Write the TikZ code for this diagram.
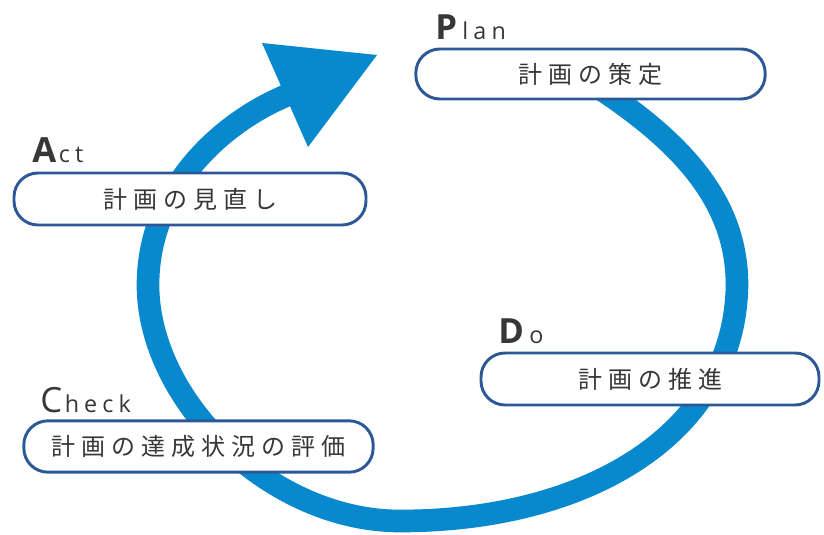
\documentclass[tikz,border=0pt]{standalone}
\usepackage{fontspec}
\newfontfamily\jpfont[LetterSpace=25]{Noto Sans CJK JP}
\newfontfamily\latfont[LetterSpace=22]{Open Sans}
\newfontfamily\capfont{Open Sans}
\definecolor{arcblue}{RGB}{8,137,206}
\definecolor{boxblue}{RGB}{44,88,152}
\definecolor{textgray}{RGB}{55,55,55}
\begin{document}
\begin{tikzpicture}[x=0.75pt,y=-0.75pt]
\useasboundingbox (0,0) rectangle (824,535);
\tikzset{
  stagebox/.style={draw=boxblue, line width=2.2pt, fill=white, rounded corners=18pt,
    inner sep=0pt, text=textgray, font=\jpfont\fontsize{18}{18}\selectfont},
  caplabel/.style={anchor=base west, inner sep=0pt, text=textgray},
  cyclearc/.style={draw=arcblue, line width=17pt},
}
% cycle arc
\coordinate (arcstart) at (590,82);
\coordinate (arcright) at (737,285);
\coordinate (arcbottom) at (400,521);
\coordinate (arcleft) at (148,285);
\coordinate (arcend) at (283,97);
\coordinate (arctip) at (294,92);
\draw[cyclearc] (arcstart) .. controls (680,140) and (737,200) .. (arcright)
  .. controls (735,432) and (590,521) .. (arcbottom)
  .. controls (270,521) and (148,400) .. (arcleft)
  .. controls (148,190) and (219,125) .. (arcend) -- (arctip);
% arrowhead
\fill[arcblue] (262,43) -- (377,55) -- (308,147) -- cycle;
% boxes
\node[stagebox, minimum width=262pt, minimum height=37.5pt] (plan) at (590.5,74) {計画の策定};
\node[stagebox, minimum width=264pt, minimum height=39pt] (act) at (190,199) {計画の見直し};
\node[stagebox, minimum width=253.5pt, minimum height=39pt] (do) at (650,379) {計画の推進};
\node[stagebox, minimum width=262pt, minimum height=38.5pt] (check) at (198.5,446.5) {計画の達成状況の評価};
% labels
\node[caplabel] (planlabel) at (435,40) {{\capfont\bfseries\fontsize{26}{26}\selectfont P}\hspace{4pt}{\latfont\fontsize{17.5}{17.5}\selectfont lan}};
\node[caplabel] (actlabel) at (32,162) {{\capfont\bfseries\fontsize{26}{26}\selectfont A}\hspace{2pt}{\latfont\fontsize{17.5}{17.5}\selectfont ct}};
\node[caplabel] (dolabel) at (498,343) {{\capfont\bfseries\fontsize{26}{26}\selectfont D}\hspace{4pt}{\latfont\fontsize{17.5}{17.5}\selectfont o}};
\node[caplabel] (checklabel) at (40,412) {{\capfont\fontsize{26}{26}\selectfont C}\hspace{2pt}{\latfont\fontsize{17.5}{17.5}\selectfont heck}};
\end{tikzpicture}
\end{document}
